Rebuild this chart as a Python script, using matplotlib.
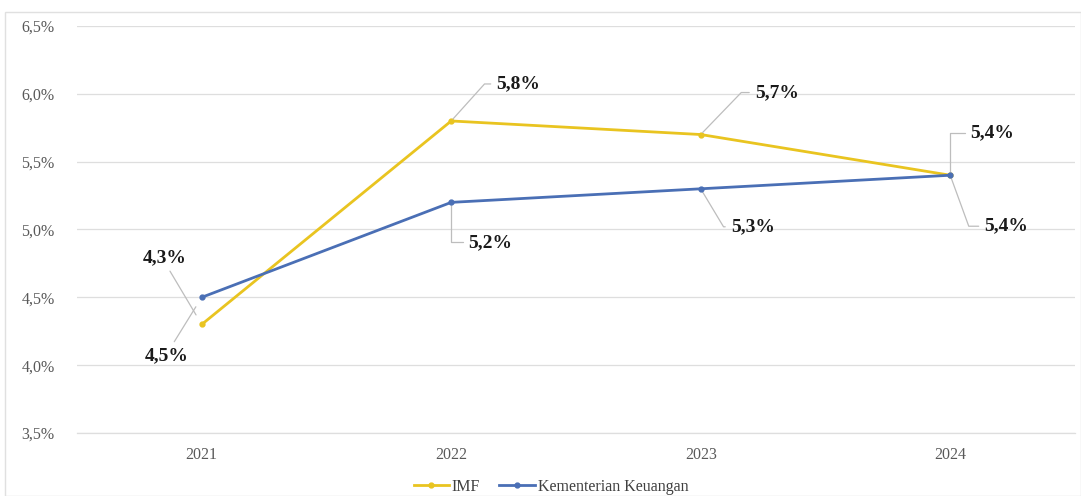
import matplotlib.pyplot as plt
from matplotlib.patches import Rectangle
from matplotlib.ticker import FuncFormatter

plt.rcParams['font.family'] = ['Liberation Serif', 'DejaVu Serif']

years = ['2021', '2022', '2023', '2024']
imf = [4.3, 5.8, 5.7, 5.4]
kemenkeu = [4.5, 5.2, 5.3, 5.4]
yticks = [3.5, 4.0, 4.5, 5.0, 5.5, 6.0, 6.5]

# label placement: offset (px) from the point and the leader-line shape
imf_offsets = [(-37, 67), (67, 37), (76, 42), (42, 42)]
imf_conn = ['arc3', 'angle,angleA=0,angleB=48,rad=0',
            'angle,angleA=0,angleB=46,rad=0', 'angle,angleA=0,angleB=90,rad=0']
kem_offsets = [(-35, -58), (39, -40), (52, -38), (56, -51)]
kem_conn = ['arc3', 'angle,angleA=0,angleB=90,rad=0',
            'angle,angleA=0,angleB=-59,rad=0', 'angle,angleA=0,angleB=-70,rad=0']

fig = plt.figure(figsize=(10.81, 4.96), dpi=100)
fig.patches.append(Rectangle((5 / 1081, 0), 1 - 5 / 1081, 1 - 12 / 496,
                             transform=fig.transFigure, fill=False,
                             edgecolor='#e0e0e0', linewidth=1))
ax = fig.add_axes([0.0712, 0.127, 0.9232, 0.8206])

x = list(range(len(years)))
ax.plot(x, imf, color='#E9C420', linewidth=2, marker='o', markersize=3.5, label='IMF', zorder=3)
ax.plot(x, kemenkeu, color='#4A6FB5', linewidth=2, marker='o', markersize=3.5,
        label='Kementerian Keuangan', zorder=4)


def put_labels(vals, offsets, conns):
    for xi, v, off, cs in zip(x, vals, offsets, conns):
        relpos = (0.5, 0.5)
        if cs == 'arc3':
            relpos = (0.55, 0.0) if off[1] > 0 else (0.6, 1.0)
        ax.annotate(f'{v:.1f}%'.replace('.', ','), xy=(xi, v), xytext=off,
                    textcoords='offset pixels', ha='center', va='center',
                    fontsize=14, fontweight='bold', color='#1a1a1a',
                    arrowprops=dict(arrowstyle='-', color='#bdbdbd', lw=0.9,
                                    shrinkA=2, shrinkB=8 if cs == 'arc3' else 2,
                                    connectionstyle=cs, relpos=relpos))


put_labels(imf, imf_offsets, imf_conn)
put_labels(kemenkeu, kem_offsets, kem_conn)

ax.set_xlim(-0.5, 3.5)
ax.set_ylim(3.5, 6.5)
ax.set_xticks(x)
ax.set_xticklabels(years)
ax.set_yticks(yticks)
ax.yaxis.set_major_formatter(FuncFormatter(lambda v, p: f'{v:.1f}%'.replace('.', ',')))
ax.tick_params(axis='both', length=0, colors='#595959', labelsize=11.5)
ax.tick_params(axis='x', pad=10)
ax.tick_params(axis='y', pad=16)
for s in ax.spines.values():
    s.set_visible(False)
ax.grid(axis='y', color='#dedede', linewidth=0.9)
ax.axhline(3.5, color='#dedede', linewidth=0.9, clip_on=False, zorder=0)
ax.set_axisbelow(True)

fig.legend(loc='center', bbox_to_anchor=(551 / 1081, 1 - 487 / 496), ncol=2,
           frameon=False, fontsize=11.5, handlelength=2.2, handletextpad=0.2,
           columnspacing=1.2, labelcolor='#404040')

plt.savefig('out.png', dpi=100)
